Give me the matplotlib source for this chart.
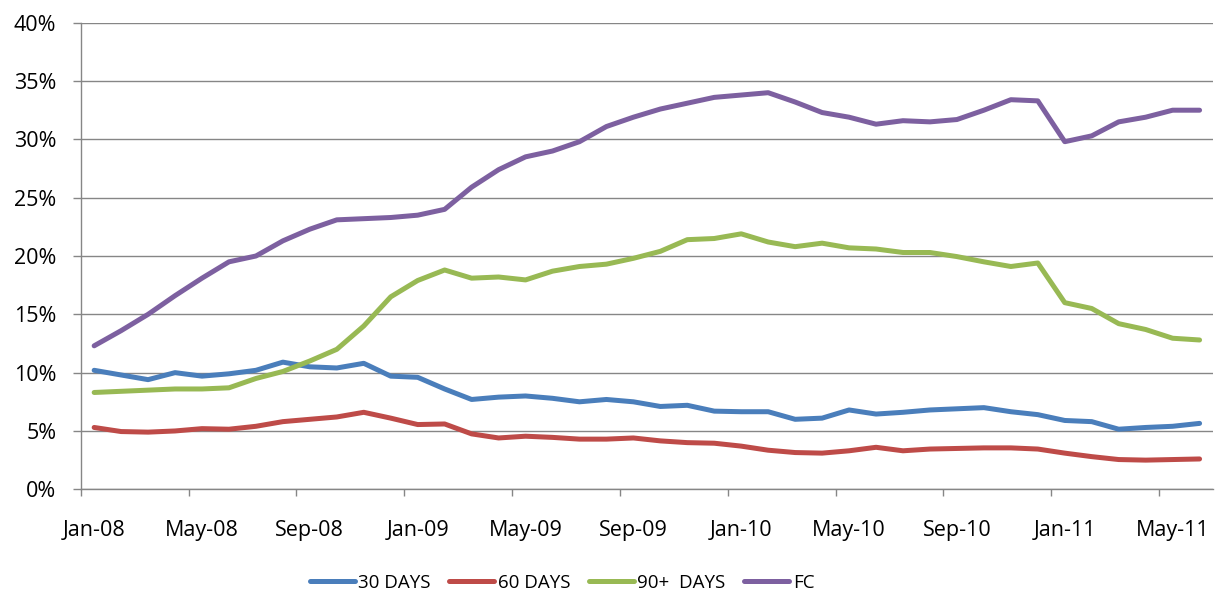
import numpy as np
import pandas as pd
import matplotlib
matplotlib.use("Agg")
import matplotlib.pyplot as plt
from matplotlib.ticker import FixedLocator, FuncFormatter

## data (share of loans, %), monthly Jan-08 .. Jun-11
months = pd.date_range("2008-01-01", periods=42, freq="MS").strftime("%b-%y").tolist()

days30 = [10.2, 9.8, 9.4, 10.0, 9.7, 9.9, 10.2, 10.9, 10.5, 10.4,
          10.8, 9.7, 9.6, 8.6, 7.7, 7.9, 8.0, 7.8, 7.5, 7.7,
          7.5, 7.1, 7.2, 6.7, 6.65, 6.65, 6.0, 6.1, 6.8, 6.45,
          6.6, 6.8, 6.9, 7.0, 6.65, 6.4, 5.9, 5.8, 5.15, 5.3,
          5.4, 5.65]
days60 = [5.3, 4.95, 4.9, 5.0, 5.2, 5.15, 5.4, 5.8, 6.0, 6.2,
          6.6, 6.1, 5.55, 5.6, 4.75, 4.4, 4.55, 4.45, 4.3, 4.3,
          4.4, 4.15, 4.0, 3.95, 3.7, 3.35, 3.15, 3.1, 3.3, 3.6,
          3.3, 3.45, 3.5, 3.55, 3.55, 3.45, 3.1, 2.8, 2.55, 2.5,
          2.55, 2.6]
days90 = [8.3, 8.4, 8.5, 8.6, 8.6, 8.7, 9.5, 10.1, 11.0, 12.0,
          14.0, 16.5, 17.9, 18.8, 18.1, 18.2, 17.95, 18.7, 19.1, 19.3,
          19.8, 20.4, 21.4, 21.5, 21.9, 21.2, 20.8, 21.1, 20.7, 20.6,
          20.3, 20.3, 19.95, 19.5, 19.1, 19.4, 16.0, 15.5, 14.2, 13.7,
          12.95, 12.8]
fc = [12.3, 13.6, 15.0, 16.6, 18.1, 19.5, 20.0, 21.3, 22.3, 23.1,
      23.2, 23.3, 23.5, 24.0, 25.9, 27.4, 28.5, 29.0, 29.8, 31.1,
      31.9, 32.6, 33.1, 33.6, 33.8, 34.0, 33.2, 32.3, 31.9, 31.3,
      31.6, 31.5, 31.7, 32.5, 33.4, 33.3, 29.8, 30.3, 31.5, 31.9,
      32.5, 32.5]

series = [("30 DAYS", days30, "#4A7EBB"),
          ("60 DAYS", days60, "#BE4B48"),
          ("90+  DAYS", days90, "#98B954"),
          ("FC", fc, "#7D60A0")]

## style
plt.rcParams["font.family"] = ["Open Sans", "DejaVu Sans"]
grid_col = "#868686"

## figure
fig = plt.figure(figsize=(12.15, 5.9), dpi=100)
ax = fig.add_axes([0.0664, 0.1707, 0.932, 0.7908])

x = np.arange(len(months))
for name, vals, col in series:
    ax.plot(x, vals, color=col, lw=3.6, label=name,
            solid_capstyle="round", solid_joinstyle="round")

# axes
ax.set_xlim(-0.5, len(months) - 0.5)
ax.set_ylim(0, 40)
ax.set_yticks(np.arange(0, 41, 5))
ax.yaxis.set_major_formatter(FuncFormatter(lambda v, p: "%d%%" % v))
ax.grid(axis="y", color=grid_col, lw=1.0)
ax.set_axisbelow(True)

# category ticks between months, labels every 4th month
ax.xaxis.set_major_locator(FixedLocator(np.arange(-0.5, len(months), 4)))
ax.xaxis.set_major_formatter(FuncFormatter(lambda v, p: ""))
ax.xaxis.set_minor_locator(FixedLocator(x[::4]))
ax.set_xticklabels([months[i] for i in x[::4]], minor=True)
ax.tick_params(axis="x", which="major", length=5.2, width=1.0, color=grid_col)
ax.tick_params(axis="x", which="minor", length=0, pad=22, labelsize=15.5)
ax.tick_params(axis="y", length=5.5, width=1.0, color=grid_col, pad=12, labelsize=15.5)

for s in ["top", "right"]:
    ax.spines[s].set_visible(False)
for s in ["left", "bottom"]:
    ax.spines[s].set_color(grid_col)
    ax.spines[s].set_linewidth(1.0)

fig.legend(loc="center", bbox_to_anchor=(562 / 1215, 1 - 583 / 590),
           ncol=4, frameon=False, fontsize=13.5, handlelength=2.4,
           handletextpad=0.18, columnspacing=1.0)

fig.savefig("out.png", dpi=100)
